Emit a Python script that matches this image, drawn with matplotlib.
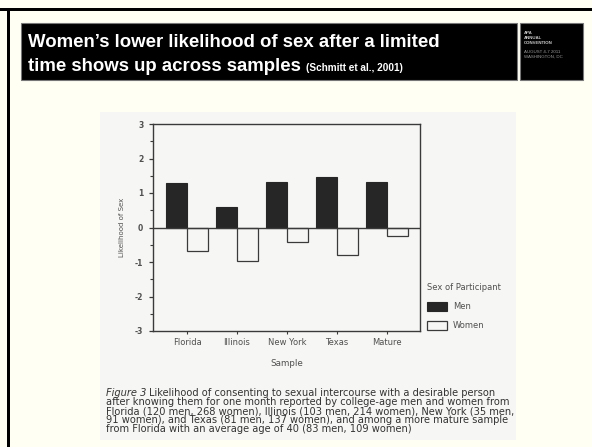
import matplotlib
matplotlib.use("Agg")
import matplotlib.pyplot as plt
from matplotlib.patches import Rectangle

# data
samples = ["Florida", "Illinois", "New York", "Texas", "Mature"]
men = [1.28, 0.58, 1.32, 1.46, 1.32]
women = [-0.68, -0.97, -0.41, -0.79, -0.24]
y_ticks = [-3, -2, -1, 0, 1, 2, 3]

title_line1 = "Women\u2019s lower likelihood of sex after a limited"
title_line2 = "time shows up across samples"
citation = "(Schmitt et al., 2001)"
logo_lines = ["APA", "ANNUAL", "CONVENTION", "AUGUST 4-7 2011", "WASHINGTON, DC"]
caption_lines = [
    "Likelihood of consenting to sexual intercourse with a desirable person",
    "after knowing them for one month reported by college-age men and women from",
    "Florida (120 men, 268 women), Illinois (103 men, 214 women), New York (35 men,",
    "91 women), and Texas (81 men, 137 women), and among a more mature sample",
    "from Florida with an average age of 40 (83 men, 109 women)",
]

W, H = 592, 447
BG = "#fffff4"
SCAN = "#f6f6f4"
INK = "#3a3a3a"
LABEL = "#505050"
SCAN_FONT = ["DejaVu Sans"]


def fx(px):
    return px / W


def fy(py):
    return 1 - py / H


fig = plt.figure(figsize=(W / 100, H / 100), dpi=100, facecolor=BG)
plt.rcParams["font.family"] = ["Liberation Sans", "DejaVu Sans"]

# slide frame
fig.add_artist(Rectangle((0, fy(11)), 1, 3 / H, transform=fig.transFigure,
                         facecolor="black", edgecolor="none", zorder=-5))
fig.add_artist(Rectangle((fx(7), 0), 3 / W, fy(8), transform=fig.transFigure,
                         facecolor="black", edgecolor="none", zorder=-5))

# title bar and logo box
fig.add_artist(Rectangle((fx(21), fy(80)), fx(517) - fx(21), 57 / H,
                         transform=fig.transFigure, facecolor="black",
                         edgecolor="#777777", linewidth=0.8, zorder=-5))
fig.add_artist(Rectangle((fx(520), fy(80)), fx(583) - fx(520), 57 / H,
                         transform=fig.transFigure, facecolor="black",
                         edgecolor="#777777", linewidth=0.8, zorder=-5))

fig.text(fx(28), fy(47), title_line1, color="white", fontsize=13.4,
         fontweight="bold", va="baseline")
t2 = fig.text(fx(28), fy(71), title_line2, color="white", fontsize=13.4,
              fontweight="bold", va="baseline")
fig.canvas.draw()
bb = t2.get_window_extent()
fig.text(bb.x1 / W + fx(5), fy(71), citation, color="white", fontsize=7.2,
         fontweight="bold", va="baseline")

logo_y = [34, 39, 44, 53, 58]
for i, (line, ly) in enumerate(zip(logo_lines, logo_y)):
    fig.text(fx(524), fy(ly), line, color="#c8c8c8" if i < 3 else "#9a9a9a",
             fontsize=3.2, fontweight="bold" if i < 3 else "normal",
             va="baseline")

# scanned figure area
fig.add_artist(Rectangle((fx(100), fy(440)), fx(516) - fx(100), 328 / H,
                         transform=fig.transFigure, facecolor=SCAN,
                         edgecolor="none", zorder=-5))

ax = fig.add_axes([fx(153), fy(331), fx(420) - fx(153), (331 - 124) / H])
ax.set_facecolor(SCAN)
x = list(range(len(samples)))
bw = 0.42
ax.bar([i - bw / 2 for i in x], men, width=bw, color="#262626",
       edgecolor="#262626", linewidth=0.8, label="Men")
ax.bar([i + bw / 2 for i in x], women, width=bw, color=SCAN,
       edgecolor=INK, linewidth=0.9, label="Women")
ax.axhline(0, color=INK, linewidth=1.0)
ax.set_xlim(-0.68, 4.66)
ax.set_ylim(-3, 3)
ax.set_yticks(y_ticks)
ax.set_yticks([v + 0.5 for v in y_ticks[:-1]], minor=True)
ax.set_xticks(x)
ax.set_xticklabels(samples, fontsize=6, color=LABEL, family=SCAN_FONT)
ax.set_yticklabels([str(v) for v in y_ticks], fontsize=5.5, color=LABEL,
                   family=SCAN_FONT, fontweight="bold")
ax.tick_params(axis="y", which="major", direction="out", length=3,
               width=0.9, color=INK, pad=4)
ax.tick_params(axis="y", which="minor", direction="out", length=2,
               width=0.8, color=INK)
ax.tick_params(axis="x", direction="out", length=2, width=0.8, color=INK,
               pad=3)
for s in ax.spines.values():
    s.set_color(INK)
    s.set_linewidth(1.0)
ax.set_ylabel("Likelihood of Sex", fontsize=5, color=LABEL, labelpad=7,
              family=SCAN_FONT)
ax.set_xlabel("Sample", fontsize=6.3, color=LABEL, labelpad=9,
              family=SCAN_FONT)

leg = fig.legend(loc="upper left", bbox_to_anchor=(fx(423), fy(279)),
                 title="Sex of Participant", frameon=False,
                 prop={"family": SCAN_FONT, "size": 6},
                 title_fontproperties={"family": SCAN_FONT, "size": 6},
                 handlelength=2.4, handleheight=1.2, labelspacing=1.2,
                 borderpad=0, handletextpad=0.7, alignment="left",
                 labelcolor=LABEL)
leg.get_title().set_color(LABEL)

# figure caption
cap_y = [396, 405, 414, 423, 432]
cap = dict(fontsize=7.1, color="#333333", va="baseline", family=SCAN_FONT)
fig.text(fx(106), fy(cap_y[0]), "Figure 3", style="italic", **cap)
fig.canvas.draw()
fb = fig.texts[-1].get_window_extent()
fig.text(fb.x1 / W + fx(3), fy(cap_y[0]), caption_lines[0], **cap)
for line, cy in zip(caption_lines[1:], cap_y[1:]):
    fig.text(fx(106), fy(cy), line, **cap)

fig.savefig("out.png", dpi=100, facecolor=BG)
